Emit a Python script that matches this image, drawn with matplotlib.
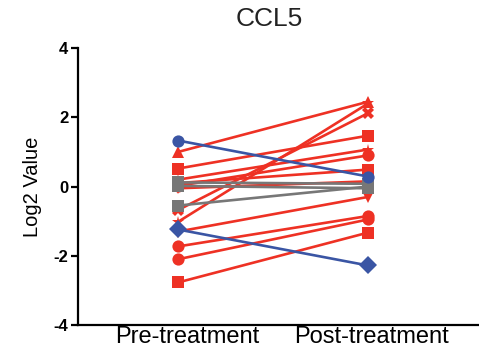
import matplotlib

matplotlib.use("Agg")
import matplotlib.pyplot as plt

plt.rcParams["font.family"] = ["Liberation Sans", "DejaVu Sans"]

RED = "#ee3124"
BLUE = "#3a55a4"
GREY = "#777777"

groups = ["Pre-treatment", "Post-treatment"]

# one entry per subject: (pre, post)
red_pre = [1.00, 0.52, 0.20, 0.10, 0.02, -0.05, -0.68, -1.02, -1.30, -1.73, -2.10, -2.77]
red_post = [2.45, 1.47, 1.07, 0.49, 0.90, 0.15, 2.12, 2.40, -0.30, -0.85, -0.95, -1.33]
red_markers = ["^", "s", "*", "s", "o", "v", "X", "*", "v", "o", "o", "s"]

blue_pre = [1.33, -1.24]
blue_post = [0.29, -2.28]
blue_markers = ["o", "D"]

grey_pre = [0.12, 0.02, -0.55]
grey_post = [0.08, -0.05, 0.00]
grey_markers = ["s", "s", "s"]

fig = plt.figure(figsize=(4.79, 3.51), dpi=100)
ax = fig.add_axes([0.163, 0.074, 0.837, 0.789])

x = [0, 1]


def draw(pre, post, markers, color):
    for a, b, m in zip(pre, post, markers):
        ax.plot(x, [a, b], color=color, linewidth=1.9, marker=m,
                markersize=8.8, markeredgewidth=0, zorder=2)


draw(red_pre, red_post, red_markers, RED)
draw(grey_pre, grey_post, grey_markers, GREY)
draw(blue_pre, blue_post, blue_markers, BLUE)

ax.set_xlim(-0.526, 1.584)
ax.set_ylim(-4, 4)
ax.set_yticks([-4, -2, 0, 2, 4])
ax.set_yticklabels(["-4", "-2", "0", "2", "4"], fontweight="bold", fontsize=12)
# category labels sit slightly right of the points, as in the original
ax.set_xticks([0.05, 1.02])
ax.set_xticklabels(groups, fontsize=17)
ax.tick_params(axis="x", length=0, pad=1)
ax.tick_params(axis="y", length=5, width=1.6, pad=2)
for s in ["top", "right"]:
    ax.spines[s].set_visible(False)
for s in ["left", "bottom"]:
    ax.spines[s].set_linewidth(1.6)
ax.set_ylabel("Log2 Value", fontsize=14.5, labelpad=8)
fig.text(0.563, 0.945, "CCL5", fontsize=19, ha="center", va="center",
         color="#222222")

fig.savefig("out.png", dpi=100)
